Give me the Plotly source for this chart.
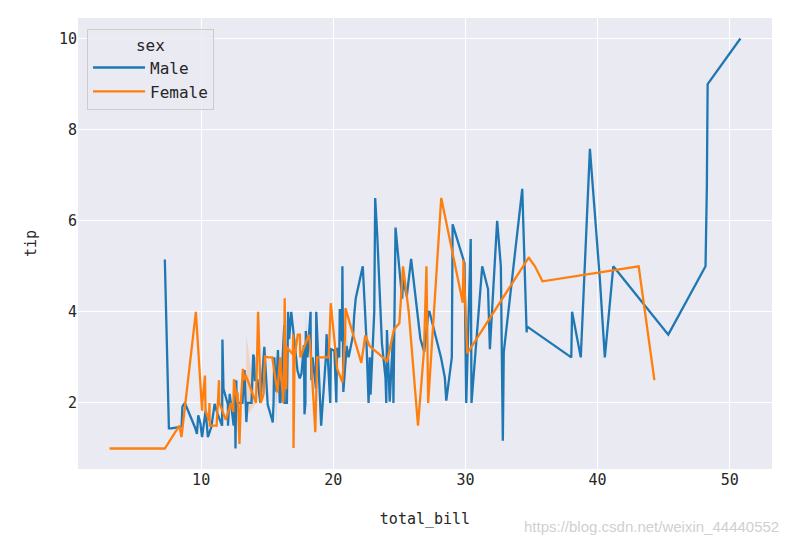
import pandas as pd
import plotly.graph_objects as go

total_bill = [16.99,10.34,21.01,23.68,24.59,25.29,8.77,26.88,15.04,14.78,10.27,35.26,15.42,18.43,14.83,21.58,10.33,16.29,16.97,20.65,
17.92,20.29,15.77,39.42,19.82,17.81,13.37,12.69,21.70,19.65,9.55,18.35,15.06,20.69,17.78,24.06,16.31,16.93,18.69,31.27,
16.04,17.46,13.94,9.68,30.40,18.29,22.23,32.40,28.55,18.04,12.54,10.29,34.81,9.94,25.56,19.49,38.01,26.41,11.24,48.27,
20.29,13.81,11.02,18.29,17.59,20.08,16.45,3.07,20.23,15.01,12.02,17.07,26.86,25.28,14.73,10.51,17.92,27.20,22.76,17.29,
19.44,16.66,10.07,32.68,15.98,34.83,13.03,18.28,24.71,21.16,28.97,22.49,5.75,16.32,22.75,40.17,27.28,12.03,21.01,12.46,
11.35,15.38,44.30,22.42,20.92,15.36,20.49,25.21,18.24,14.31,14.00,7.25,38.07,23.95,25.71,17.31,29.93,10.65,12.43,24.08,
11.69,13.42,14.26,15.95,12.48,29.80,8.52,14.52,11.38,22.82,19.08,20.27,11.17,12.26,18.26,8.51,10.33,14.15,16.00,13.16,
17.47,34.30,41.19,27.05,16.43,8.35,18.64,11.87,9.78,7.51,14.07,13.13,17.26,24.55,19.77,29.85,48.17,25.00,13.39,16.49,
21.50,12.66,16.21,13.81,17.51,24.52,20.76,31.71,10.59,10.63,50.81,15.81,7.25,31.85,16.82,32.90,17.89,14.48,9.60,34.63,
34.65,23.33,45.35,23.17,40.55,20.69,20.90,30.46,18.15,23.10,15.69,19.81,28.44,15.48,16.58,7.56,10.34,43.11,13.00,13.51,
18.71,12.74,13.00,16.40,20.53,16.47,26.59,38.73,24.27,12.76,30.06,25.89,48.33,13.27,28.17,12.90,28.15,11.59,7.74,30.14,
12.16,13.42,8.58,15.98,13.42,16.27,10.09,20.45,13.28,22.12,24.01,15.69,11.61,10.77,15.53,10.07,12.60,32.83,35.83,29.03,
27.18,22.67,17.82,18.78]

tip = [1.01,1.66,3.50,3.31,3.61,4.71,2.00,3.12,1.96,3.23,1.71,5.00,1.57,3.00,3.02,3.92,1.67,3.71,3.50,3.35,
4.08,2.75,2.23,7.58,3.18,2.34,2.00,2.00,4.30,3.00,1.45,2.50,3.00,2.45,3.27,3.60,2.00,3.07,2.31,5.00,
2.24,2.54,3.06,1.32,5.60,3.00,5.00,6.00,2.05,3.00,2.50,2.60,5.20,1.56,4.34,3.51,3.00,1.50,1.76,6.73,
3.21,2.00,1.98,3.76,2.64,3.15,2.47,1.00,2.01,2.09,1.97,3.00,3.14,5.00,2.20,1.25,3.08,4.00,3.00,2.71,
3.00,3.40,1.83,5.00,2.03,5.17,2.00,4.00,5.85,3.00,3.00,3.50,1.00,4.30,3.25,4.73,4.00,1.50,3.00,1.50,
2.50,3.00,2.50,3.48,4.08,1.64,4.06,4.29,3.76,4.00,3.00,1.00,4.00,2.55,4.00,3.50,5.07,1.50,1.80,2.92,
2.31,1.68,2.50,2.00,2.52,4.20,1.48,2.00,2.00,2.18,1.50,2.83,1.50,2.00,3.25,1.25,2.00,2.00,2.00,2.75,
3.50,6.70,5.00,5.00,2.30,1.50,1.36,1.63,1.73,2.00,2.50,2.00,2.74,2.00,2.00,5.14,5.00,3.75,2.61,2.00,
3.50,2.50,2.00,2.00,3.00,3.48,2.24,4.50,1.61,2.00,10.00,3.16,5.15,3.18,4.00,3.11,2.00,2.00,4.00,3.55,
3.68,5.65,3.50,6.50,3.00,5.00,3.50,2.00,3.50,4.00,1.50,4.19,2.56,2.02,4.00,1.44,2.00,5.00,2.00,2.00,
4.00,2.01,2.00,2.50,4.00,3.23,3.41,3.00,2.03,2.23,2.00,5.16,9.00,2.50,6.50,1.10,3.00,1.50,1.44,3.09,
2.20,3.48,1.92,3.00,1.58,2.50,2.00,3.00,2.72,2.88,2.00,3.00,3.39,1.47,3.00,1.25,1.00,1.17,4.67,5.92,
2.00,2.00,1.75,3.00]

sex_codes = ("FMMMFMMMMMMFMMFMFMFM"
             "MFFMMMMMMFMMFFMMMFMM"
             "MMMMMMMMMMMFFMMMMFMM"
             "MMMMMMFFMMMFFFFMMMMM"
             "MMFMMFMMMMMMFFFMMMMM"
             "FFFFFMMMMFMFMMFFMFFF"
             "MFMMFFMFFMMFFFFFFFMF"
             "FMMFFFFFMMMMMMMFMFFM"
             "MMFMFMMMFFMMMMMMMMFM"
             "MMMMMMFMFMMFMMMMMFFM"
             "MFFFMFMMMFMMMFFFMMMF"
             "MFMFMFFMMFMMMMMMMMFM"
             "FMMF")
sex = ["Male" if s == "M" else "Female" for s in sex_codes]

hue_order = ["Male", "Female"]
colors = {"Male": "#1f77b4", "Female": "#ff7f0e"}
bands = {"Male": "rgba(31,119,180,0.2)", "Female": "rgba(255,127,14,0.2)"}

n = min(len(total_bill), len(tip), len(sex))
df = pd.DataFrame({"total_bill": total_bill[:n], "tip": tip[:n], "sex": sex[:n]})

font_family = "DejaVu Sans Mono"
fig = go.Figure()
for s in hue_order:
    g = df[df.sex == s].groupby("total_bill")["tip"].agg(["mean", "min", "max"]).reset_index()
    fig.add_trace(go.Scatter(x=g.total_bill, y=g["max"], mode="lines", line=dict(width=0),
                             showlegend=False, hoverinfo="skip"))
    fig.add_trace(go.Scatter(x=g.total_bill, y=g["min"], mode="lines", line=dict(width=0),
                             fill="tonexty", fillcolor=bands[s], showlegend=False, hoverinfo="skip"))
for s in hue_order:
    g = df[df.sex == s].groupby("total_bill")["tip"].mean().reset_index()
    fig.add_trace(go.Scatter(x=g.total_bill, y=g.tip, mode="lines", name=s,
                             line=dict(color=colors[s], width=2.3)))

fig.update_layout(
    width=792, height=545,
    margin=dict(l=78, r=20, t=18, b=76),
    plot_bgcolor="#EAEAF2", paper_bgcolor="white",
    font=dict(family=font_family, size=15, color="#262626"),
    legend=dict(x=0.013, y=0.976, xanchor="left", yanchor="top", traceorder="normal",
                bgcolor="rgba(234,234,242,0.8)", bordercolor="#cccccc", borderwidth=1,
                title=dict(text="sex", side="top center", font=dict(size=16)),
                font=dict(size=16), itemwidth=52, tracegroupgap=6),
)
fig.add_annotation(text="https://blog.csdn.net/weixin_44440552", xref="paper", yref="paper",
                   x=1.013, y=-0.128, xanchor="right", yanchor="middle", showarrow=False,
                   font=dict(family="Liberation Sans", size=15, color="#d0d0d0"))
fig.update_xaxes(range=[0.68, 53.2], tickvals=[10, 20, 30, 40, 50], showgrid=True, gridcolor="white",
                 gridwidth=1.3, zeroline=False, showline=False, ticks="", tickfont=dict(size=15),
                 title=dict(text="total_bill", standoff=25, font=dict(size=15)))
fig.update_yaxes(range=[0.55, 10.45], tickvals=[2, 4, 6, 8, 10], showgrid=True, gridcolor="white",
                 gridwidth=1.3, zeroline=False, showline=False, ticks="", tickfont=dict(size=15),
                 title=dict(text="tip", standoff=18, font=dict(size=15)))
fig.write_html("out.html")
